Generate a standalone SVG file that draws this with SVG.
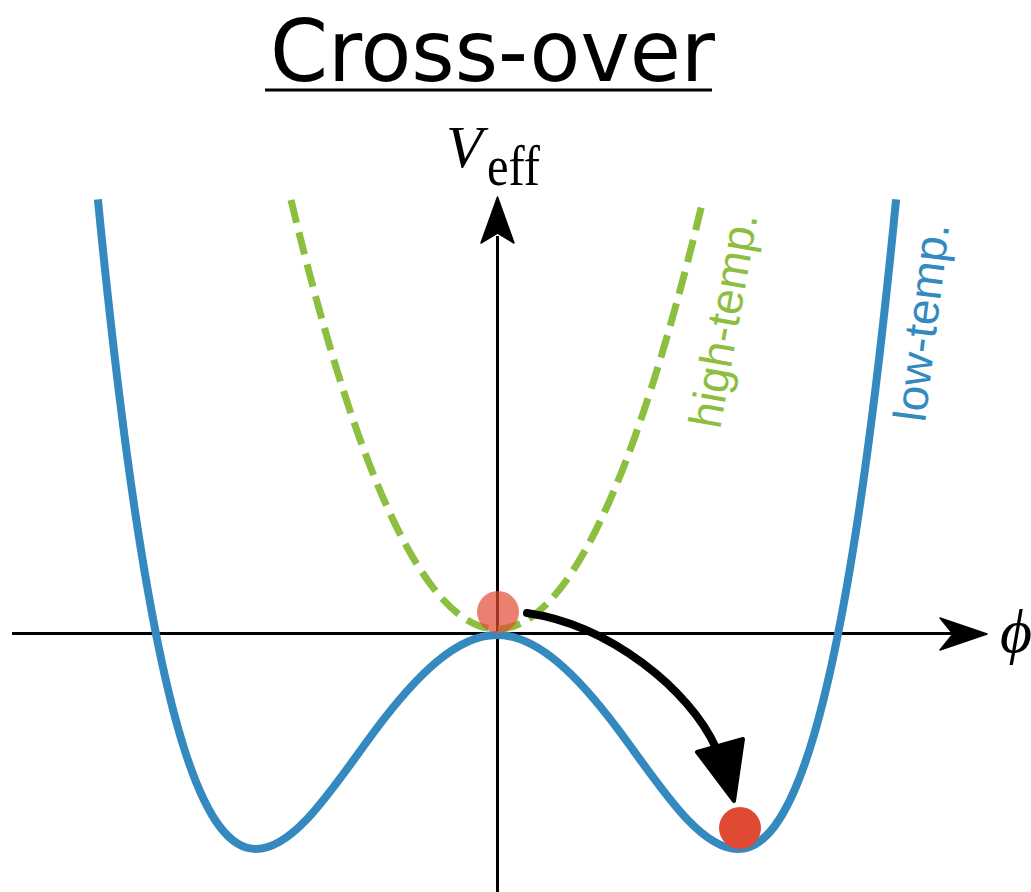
<svg xmlns="http://www.w3.org/2000/svg" width="1031" height="892" viewBox="0 0 1031 892">
<style>
.axis{stroke:#000;stroke-width:3;fill:none}
.head{fill:#000;stroke:#000;stroke-width:1.5;stroke-linejoin:round}
.low{fill:none;stroke:#348abf;stroke-width:8;stroke-linejoin:round}
.high{fill:none;stroke:#8cbe3f;stroke-width:7;stroke-dasharray:23 10}
.lbl{font-family:"Liberation Sans",Arial,sans-serif;font-size:46px;font-style:normal}
.math{font-family:"Liberation Serif","DejaVu Serif",serif}
</style>
<rect width="1031" height="892" fill="#fff"/>
<g id="title">
<text x="270" y="81" font-family="DejaVu Sans, sans-serif" font-size="86" textLength="445" lengthAdjust="spacingAndGlyphs">Cross-over</text>
<line x1="265" y1="90" x2="712" y2="90" stroke="#000" stroke-width="3"/>
</g>
<g id="axes">
<line class="axis" x1="497.5" y1="236" x2="497.5" y2="892"/>
<polygon class="head" points="497.5,197 514,243 497.5,233 481,243"/>
<line class="axis" x1="12" y1="633.5" x2="955" y2="633.5"/>
<polygon class="head" points="987,634 940,618 953,634 940,650"/>
<text class="math" x="446" y="167" font-size="60" font-style="italic">V</text>
<text class="math" x="487" y="185" font-size="58" textLength="53" lengthAdjust="spacingAndGlyphs">eff</text>
<text class="math" x="1000" y="652" font-size="62" font-style="italic">ϕ</text>
</g>
<g id="low-temp">
<path class="low" d="M97.9,199.3 C110.4,327.7 123,431.1 135.5,514.6 C151.6,621.6 167.6,695.9 183.7,747.1 C207.8,823.9 231.9,849 256,849 C296.2,849 336.3,782.1 376.5,728.6 C416.7,675.1 456.8,635 497,635 C537.2,635 577.3,675.1 617.5,728.6 C657.7,782.1 697.8,849 738,849 C762.1,849 786.2,823.9 810.3,747.1 C826.4,695.9 842.4,621.6 858.5,514.6 C871,431.1 883.6,327.7 896.1,199.3"/>
<text class="lbl" fill="#348abf" transform="translate(925,423) rotate(-83)">low-temp.</text>
</g>
<g id="high-temp">
<path class="high" d="M291,200 Q497,1058 703,200"/>
<text class="lbl" fill="#8cbe3f" transform="translate(720,430) rotate(-80)">high-temp.</text>
</g>
<g id="connectors">
<path d="M527,613 C610,625 690,690 716,748" fill="none" stroke="#000" stroke-width="8" stroke-linecap="round"/>
<polygon points="734,801 697,752 743,739" fill="#000" stroke="#000" stroke-width="4" stroke-linejoin="round"/>
</g>
<g id="ball-start">
<circle cx="498" cy="612" r="21" fill="#e34a33" fill-opacity="0.7"/>
</g>
<g id="ball-end">
<circle cx="740" cy="828" r="21" fill="#e04a33"/>
</g>
</svg>
